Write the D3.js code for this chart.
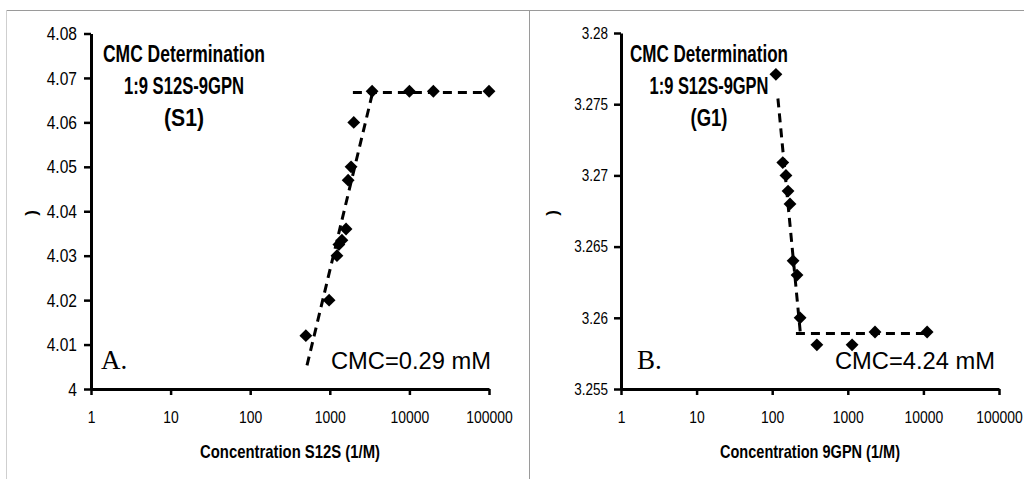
<!DOCTYPE html>
<html><head><meta charset="utf-8">
<script src="https://cdn.jsdelivr.net/npm/d3@7"></script>
<style>body{margin:0;background:#fff} svg{display:block}</style>
</head><body><svg id="c" width="1024" height="479"></svg>
<script>
// ---- data ----
const xTicks = [1, 10, 100, 1000, 10000, 100000];
const xTickLabels = ["1", "10", "100", "1000", "10000", "100000"];

// Panel A: S12S
const s12sConc  = [500, 980, 1230, 1300, 1420, 1600, 1700, 1850, 2000, 3400, 10000, 20000, 100000];
const s12sValue = [4.012, 4.020, 4.030, 4.0325, 4.0335, 4.036, 4.047, 4.050, 4.060, 4.067, 4.067, 4.067, 4.067];
const s12sYTicks = [4, 4.01, 4.02, 4.03, 4.04, 4.05, 4.06, 4.07, 4.08];
const s12sYTickLabels = ["4", "4.01", "4.02", "4.03", "4.04", "4.05", "4.06", "4.07", "4.08"];
const s12sFitRiseConc = [517, 3448];
const s12sFitRiseValue = [4.0053, 4.0667];
const s12sFitFlatConc = [1950, 100000];
const s12sFitFlatValue = [4.0667, 4.0667];
const s12sTitle = ["CMC Determination", "1:9 S12S-9GPN", "(S1)"];
const s12sXLabel = "Concentration  S12S (1/M)";
const s12sCmc = "CMC=0.29 mM";

// Panel B: 9GPN
const gpnConc  = [112, 138, 152, 162, 172, 189, 213, 234, 390, 1140, 2290, 11200];
const gpnValue = [3.2771, 3.2709, 3.2700, 3.2689, 3.2680, 3.2640, 3.2630, 3.2600, 3.2581, 3.2581, 3.2590, 3.2590];
const gpnYTicks = [3.255, 3.26, 3.265, 3.27, 3.275, 3.28];
const gpnYTickLabels = ["3.255", "3.26", "3.265", "3.27", "3.275", "3.28"];
const gpnFitDropConc = [119, 236];
const gpnFitDropValue = [3.2754, 3.2589];
const gpnFitFlatConc = [206, 11500];
const gpnFitFlatValue = [3.2589, 3.2589];
const gpnTitle = ["CMC Determination", "1:9 S12S-9GPN", "(G1)"];
const gpnXLabel = "Concentration  9GPN (1/M)";
const gpnCmc = "CMC=4.24 mM";

// ---- drawing ----
const svg = d3.select("#c");
const SANS = "'Liberation Sans', Arial, sans-serif";

// frames
svg.append("line").attr("x1",6).attr("x2",1024).attr("y1",10.5).attr("y2",10.5).attr("stroke","#9a9a9a");
svg.append("line").attr("x1",6.5).attr("x2",6.5).attr("y1",10).attr("y2",479).attr("stroke","#cfcfcf");
svg.append("line").attr("x1",529.5).attr("x2",529.5).attr("y1",10).attr("y2",479).attr("stroke","#9a9a9a");

function panel(o) {
  const x = d3.scaleLog().domain([1, 100000]).range([o.x0, o.x1]);
  const y = d3.scaleLinear().domain([o.yTicks[0], o.yTicks[o.yTicks.length-1]]).range([o.y0, o.y1]);
  const g = svg.append("g");
  const SX = 0.82;

  // y axis
  const ya = g.append("g").attr("transform", `translate(${o.x0},0)`)
    .call(d3.axisLeft(y).tickValues(o.yTicks).tickFormat((d,i)=>o.yLabels[i])
      .tickSize(7).tickSizeOuter(0));
  ya.select(".domain").attr("stroke","#000").attr("stroke-width",3);
  ya.selectAll(".tick line").attr("stroke","#000").attr("stroke-width",2.5);
  ya.selectAll(".tick text").attr("font-family",SANS).attr("font-size",o.yFont).attr("fill","#000")
    .attr("x", -o.yGap / SX).attr("transform", `scale(${SX},1)`);

  // x axis
  const xa = g.append("g").attr("transform", `translate(0,${o.y0})`)
    .call(d3.axisBottom(x).tickValues(xTicks).tickFormat((d,i)=>xTickLabels[i])
      .tickSize(6).tickSizeOuter(0).tickPadding(16));
  xa.select(".domain").attr("stroke","#000").attr("stroke-width",3);
  xa.selectAll(".tick line").attr("stroke","#000").attr("stroke-width",2.5);
  xa.selectAll(".tick text").attr("font-family",SANS).attr("font-size",17).attr("fill","#000")
    .attr("transform", `scale(${SX},1)`);

  // fit lines
  const line = d3.line().x(d=>x(d[0])).y(d=>y(d[1]));
  o.fits.forEach(f => {
    g.append("path").attr("d", line(d3.zip(f[0], f[1])))
      .attr("fill","none").attr("stroke","#000").attr("stroke-width",3)
      .attr("stroke-dasharray","9,6");
  });

  // markers
  const sym = d3.symbol().type(d3.symbolDiamond2).size(105);
  g.selectAll("path.pt").data(d3.zip(o.conc, o.vals)).join("path")
    .attr("class","pt").attr("d", sym)
    .attr("transform", d=>`translate(${x(d[0])},${y(d[1])})`)
    .attr("fill","#000");

  // title block
  o.title.forEach((t,i) => {
    g.append("text").text(t).attr("x", o.tx).attr("y", o.ty[i])
      .attr("text-anchor","middle").attr("font-family",SANS).attr("font-weight","bold")
      .attr("font-size",24).attr("textLength", o.tw[i]).attr("lengthAdjust","spacingAndGlyphs")
      .attr("fill","#000");
  });

  // x label
  g.append("text").text(o.xLabel).attr("x", o.xlx).attr("y", 458)
    .attr("text-anchor","middle").attr("font-family",SANS).attr("font-weight","bold")
    .attr("font-size",19).attr("textLength",180).attr("lengthAdjust","spacingAndGlyphs");

  // y label
  g.append("text").text(")").attr("transform",`translate(${o.ylx},213) rotate(-90)`)
    .attr("text-anchor","middle").attr("dy","0.3em").attr("font-family",SANS)
    .attr("font-weight","bold").attr("font-size",17);

  // panel letter
  g.append("text").text(o.letter).attr("x", o.lx).attr("y", 369)
    .attr("font-family","'Liberation Serif', 'Times New Roman', serif").attr("font-size",27);

  // CMC text
  g.append("text").text(o.cmc).attr("x", o.cx).attr("y", 369)
    .attr("font-family",SANS).attr("font-size",24)
    .attr("textLength",160).attr("lengthAdjust","spacingAndGlyphs");
}

panel({
  x0: 91, x1: 489, y0: 389, y1: 33.5,
  yTicks: s12sYTicks, yLabels: s12sYTickLabels, yFont: 19, yGap: 14,
  conc: s12sConc, vals: s12sValue,
  fits: [[s12sFitRiseConc, s12sFitRiseValue], [s12sFitFlatConc, s12sFitFlatValue]],
  title: s12sTitle, tx: 184, ty: [62, 94, 126], tw: [162, 120, 40],
  xLabel: s12sXLabel, xlx: 290, ylx: 32,
  letter: "A.", lx: 101, cmc: s12sCmc, cx: 331
});

panel({
  x0: 621, x1: 999, y0: 389, y1: 33,
  yTicks: gpnYTicks, yLabels: gpnYTickLabels, yFont: 16.5, yGap: 13,
  conc: gpnConc, vals: gpnValue,
  fits: [[gpnFitDropConc, gpnFitDropValue], [gpnFitFlatConc, gpnFitFlatValue]],
  title: gpnTitle, tx: 709, ty: [62, 94, 126], tw: [158, 119, 37],
  xLabel: gpnXLabel, xlx: 810, ylx: 553,
  letter: "B.", lx: 637, cmc: gpnCmc, cx: 835
});
</script></body></html>
